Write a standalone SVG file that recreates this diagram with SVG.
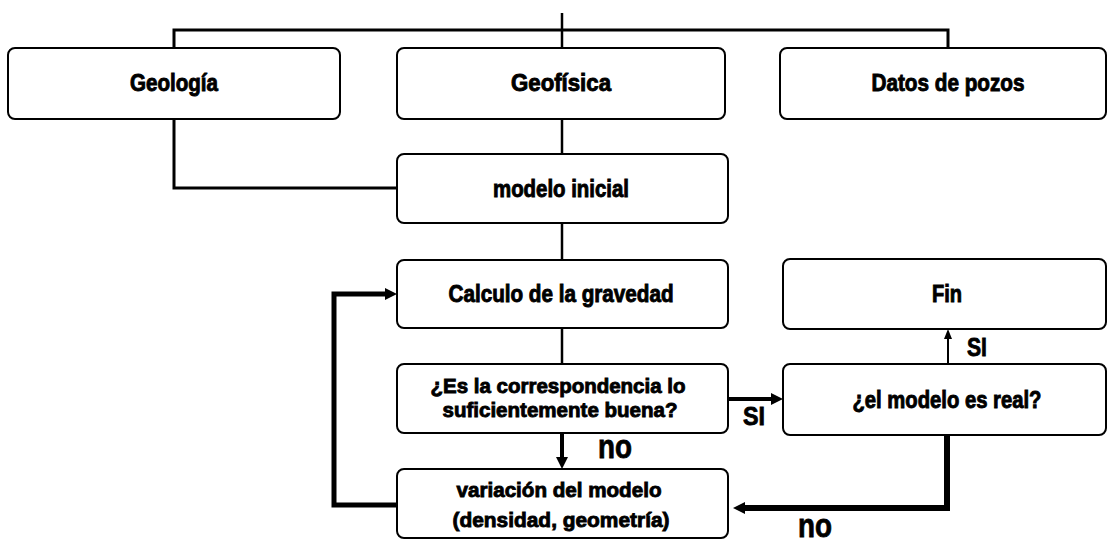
<svg xmlns="http://www.w3.org/2000/svg" width="1108" height="542" viewBox="0 0 1108 542">
<style>
.box{fill:#fff;stroke:#000;stroke-width:2}
.t{font-family:"Liberation Sans Narrow","Liberation Sans",Arial,sans-serif;font-weight:bold;font-size:23px;fill:#000;stroke:#000;stroke-width:0.9;text-anchor:middle}
.t2{font-size:21px}
.lbl{font-family:"Liberation Sans Narrow","Liberation Sans",Arial,sans-serif;font-weight:bold;fill:#000;stroke:#000;stroke-width:0.8}
.c{fill:none;stroke:#000;stroke-linejoin:miter;stroke-linecap:butt}
</style>
<defs>
<marker id="ah" viewBox="0 0 12 12" markerWidth="12" markerHeight="12" refX="0" refY="6" orient="auto" markerUnits="userSpaceOnUse"><path d="M0,0 L12,6 L0,12 z" fill="#000"/></marker>
<marker id="ahs" viewBox="0 0 10 8" markerWidth="10" markerHeight="8" refX="0" refY="4" orient="auto" markerUnits="userSpaceOnUse"><path d="M0,0 L10,4 L0,8 z" fill="#000"/></marker>
</defs>
<g id="connectors">
<path class="c" stroke-width="2.5" d="M562,13 V48"/>
<path class="c" stroke-width="3" d="M174,48 V30 H948 V48"/>
<path class="c" stroke-width="3" d="M174,119 V188 H397"/>
<path class="c" stroke-width="2.5" d="M562,119 V154"/>
<path class="c" stroke-width="2.5" d="M562,223 V260"/>
<path class="c" stroke-width="2.5" d="M562,328 V364"/>
<path class="c" stroke-width="4" d="M562,433 V457" marker-end="url(#ah)"/>
<path class="c" stroke-width="4" d="M728,399 H771" marker-end="url(#ah)"/>
<path class="c" stroke-width="2" d="M948,364 V339" marker-end="url(#ahs)"/>
<path class="c" stroke-width="6" d="M947,425 V508 H745" marker-end="url(#ah)"/>
<path class="c" stroke-width="5" d="M397,505 H334 V294 H385" marker-end="url(#ah)"/>
<text class="lbl" x="598" y="458" font-size="34" textLength="34" lengthAdjust="spacingAndGlyphs">no</text>
<text class="lbl" x="743" y="425" font-size="25" textLength="22" lengthAdjust="spacingAndGlyphs">SI</text>
<text class="lbl" x="967" y="356" font-size="25" textLength="20" lengthAdjust="spacingAndGlyphs">SI</text>
<text class="lbl" x="798" y="537" font-size="34" textLength="34" lengthAdjust="spacingAndGlyphs">no</text>
</g>
<g id="geologia"><rect class="box" x="8" y="48" width="332" height="71" rx="7"/><text class="t" x="174" y="91" textLength="88" lengthAdjust="spacingAndGlyphs">Geología</text></g>
<g id="geofisica"><rect class="box" x="397" y="48" width="328" height="71" rx="7"/><text class="t" x="561" y="91" textLength="100" lengthAdjust="spacingAndGlyphs">Geofísica</text></g>
<g id="datos"><rect class="box" x="780" y="48" width="326" height="71" rx="7"/><text class="t" x="948" y="91" textLength="153" lengthAdjust="spacingAndGlyphs">Datos de pozos</text></g>
<g id="modelo-inicial"><rect class="box" x="397" y="154" width="331" height="69" rx="7"/><text class="t" x="561" y="197" textLength="136" lengthAdjust="spacingAndGlyphs">modelo inicial</text></g>
<g id="calculo"><rect class="box" x="397" y="260" width="331" height="68" rx="7"/><text class="t" x="561" y="302" textLength="225" lengthAdjust="spacingAndGlyphs">Calculo de la gravedad</text></g>
<g id="correspondencia"><rect class="box" x="397" y="364" width="331" height="69" rx="7"/><text class="t t2" x="558" y="393" textLength="255" lengthAdjust="spacingAndGlyphs">¿Es la correspondencia lo</text><text class="t t2" x="560" y="417" textLength="235" lengthAdjust="spacingAndGlyphs">suficientemente buena?</text></g>
<g id="variacion"><rect class="box" x="397" y="469" width="331" height="69" rx="7"/><text class="t t2" x="559" y="497" textLength="205" lengthAdjust="spacingAndGlyphs">variación del modelo</text><text class="t t2" x="561" y="527" textLength="217" lengthAdjust="spacingAndGlyphs">(densidad, geometría)</text></g>
<g id="fin"><rect class="box" x="783" y="259" width="323" height="70" rx="7"/><text class="t" x="947" y="302" textLength="30" lengthAdjust="spacingAndGlyphs">Fin</text></g>
<g id="modelo-real"><rect class="box" x="783" y="364" width="323" height="71" rx="7"/><text class="t" x="947" y="408" textLength="189" lengthAdjust="spacingAndGlyphs">¿el modelo es real?</text></g>
</svg>
